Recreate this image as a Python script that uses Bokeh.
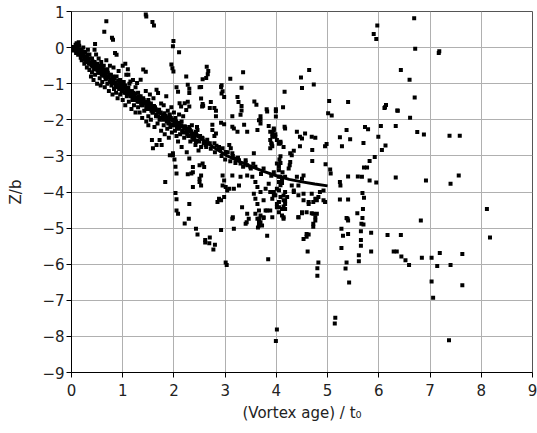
from bokeh.plotting import figure
from bokeh.embed import file_html
from bokeh.resources import INLINE
from bokeh.models import Range1d, FixedTicker

# fitted mean descent curve
curve_t = [0, 0.25, 0.5, 0.75, 1, 1.25, 1.5, 1.75, 2, 2.25, 2.5, 2.75, 3, 3.25, 3.5, 3.75, 4, 4.25, 4.5, 4.75, 5]
curve_z = [0.05, -0.27, -0.57, -0.85, -1.12, -1.37, -1.62, -1.84, -2.05, -2.28, -2.5, -2.74, -2.97, -3.14,
           -3.29, -3.43, -3.55, -3.65, -3.72, -3.78, -3.83]

x_ticks = [0, 1, 2, 3, 4, 5, 6, 7, 8, 9]
y_ticks = [-9, -8, -7, -6, -5, -4, -3, -2, -1, 0, 1]

# measured vortex positions (age / t0, Z / b)
top_pts = [(0.68, 0.73), (0.64, 0.44), (0.79, 0.27), (0.81, 0.22), (1.45, 0.92), (1.46, 0.86), (1.58, 0.71),
           (1.61, 0.61), (1.99, 0.18), (1.98, 0.04), (2.10, -0.13), (0.85, -0.15), (0.88, -0.2), (0.46, 0.1),
           (0.14, 0.15), (1.11, -0.75), (1.05, -0.45)]

cluster_pts = [
    (0.02, 0.02), (0.05, -0.05), (0.08, 0.08), (0.1, 0.12), (0.1, -0.1), (0.12, -0.02), (0.13, -0.2), (0.15, 0.05),
    (0.16, -0.15), (0.18, -0.28), (0.2, -0.08), (0.2, -0.35), (0.22, -0.22), (0.23, 0.0), (0.25, -0.3), (0.25, -0.45),
    (0.27, -0.12), (0.28, -0.4), (0.3, -0.25), (0.3, -0.55), (0.32, -0.06), (0.33, -0.35), (0.35, -0.62), (0.35, -0.19),
    (0.37, -0.45), (0.38, -0.8), (0.4, -0.3), (0.4, -0.68), (0.42, -0.52), (0.43, -0.9), (0.45, -0.06), (0.45, -0.4),
    (0.46, -0.75), (0.48, -0.19), (0.48, -0.6), (0.5, -1.0), (0.5, -0.45),
    (0.52, -0.7), (0.53, -0.3), (0.55, -0.85), (0.55, -0.55), (0.57, -1.05), (0.58, -0.4), (0.6, -0.65), (0.6, -0.95),
    (0.62, -0.78), (0.63, -0.5), (0.65, -1.1), (0.65, -0.7), (0.67, -0.88), (0.68, -0.35), (0.7, -1.0), (0.7, -0.6),
    (0.72, -0.8), (0.73, -1.2), (0.75, -0.95), (0.75, -0.5),
    (0.77, -0.75), (0.78, -1.05), (0.8, -0.9), (0.8, -1.3), (0.82, -0.55), (0.83, -1.15), (0.85, -0.98), (0.87, -1.25),
    (0.88, -0.8), (0.9, -1.05), (0.9, -1.4), (0.92, -0.65), (0.93, -1.15), (0.95, -0.9), (0.95, -1.3), (0.97, -1.0),
    (0.98, -1.2), (1.0, -0.5), (1.0, -1.1), (1.0, -1.45),
    (1.02, -0.95), (1.03, -1.25), (1.05, -1.05), (1.05, -1.6), (1.07, -0.75), (1.08, -1.35), (1.1, -1.15), (1.1, -0.6),
    (1.12, -1.5), (1.13, -1.0), (1.15, -1.3), (1.15, -0.94), (1.17, -1.7), (1.18, -1.2), (1.2, -1.45), (1.2, -0.9),
    (1.22, -1.6), (1.23, -1.3), (1.25, -1.1), (1.25, -1.8),
    (1.27, -1.45), (1.28, -0.98), (1.3, -1.65), (1.3, -1.25), (1.32, -1.5), (1.33, -1.8), (1.35, -1.35), (1.35, -0.89),
    (1.37, -1.6), (1.38, -1.95), (1.4, -0.61), (1.4, -1.4), (1.42, -1.75), (1.43, -1.55), (1.45, -0.67), (1.45, -1.2),
    (1.46, -2.05), (1.48, -1.65), (1.5, -1.45), (1.5, -1.9), (1.5, -2.15),
    (1.52, -1.7), (1.53, -1.3), (1.55, -2.0), (1.55, -1.55), (1.57, -2.56), (1.58, -1.8), (1.59, -2.79), (1.6, -1.4),
    (1.62, -2.2), (1.63, -1.65), (1.65, -1.9), (1.66, -2.7), (1.66, -1.17), (1.68, -2.1), (1.69, -1.26), (1.7, -1.75),
    (1.72, -2.56), (1.72, -2.0), (1.75, -1.55), (1.76, -2.7), (1.75, -2.3),
    (1.78, -1.9), (1.8, -2.15), (1.8, -1.6), (1.82, -2.4), (1.85, -1.95), (1.85, -1.35), (1.87, -2.25), (1.88, -1.75),
    (1.9, -2.05), (1.9, -2.5), (1.92, -1.85), (1.93, -2.2), (1.95, -0.47), (1.95, -1.65), (1.96, -2.35), (1.97, -0.57),
    (1.98, -2.0), (1.98, -2.98), (1.99, -0.66), (2.0, -2.15), (2.0, -1.8),
    (2.01, -3.1), (2.02, -2.3), (2.03, -1.95), (2.05, -1.1), (2.05, -2.45), (2.07, -2.1), (2.08, -1.22), (2.08, -2.6),
    (2.1, -2.2), (2.1, -1.85), (2.11, -1.54), (2.12, -2.4), (2.14, -1.63), (2.15, -2.05), (2.15, -2.75), (2.17, -2.3),
    (2.18, -1.9), (2.2, -2.5), (2.21, -1.54), (2.22, -2.2), (2.24, -1.73), (2.24, -0.8), (2.25, -2.9), (2.25, -2.35),
    (2.27, -1.03), (2.27, -1.5), (2.28, -2.45), (2.3, -1.26), (2.3, -1.63), (2.3, -2.2), (2.3, -3.07), (2.32, -2.6),
    (2.34, -2.4), (2.35, -2.15), (2.37, -3.31), (2.37, -3.45), (2.38, -2.5), (2.42, -2.7), (2.43, -2.33),
    (2.45, -2.2), (2.48, -2.85), (2.5, -3.26), (2.5, -1.1), (1.92, -2.98), (1.98, -2.93), (1.83, -3.72)]

band_pts = [
    (0.03, -0.08), (0.06, 0.0), (0.09, -0.15), (0.11, 0.02), (0.14, -0.1), (0.17, -0.05), (0.19, -0.22), (0.21, -0.12),
    (0.24, -0.18), (0.26, -0.32), (0.29, -0.33), (0.31, -0.2), (0.34, -0.45), (0.36, -0.3), (0.39, -0.5), (0.41, -0.38),
    (0.44, -0.6), (0.46, -0.45), (0.49, -0.48), (0.51, -0.62), (0.54, -0.7), (0.56, -0.5), (0.59, -0.75), (0.61, -0.58),
    (0.64, -0.62), (0.66, -0.82), (0.69, -0.85), (0.71, -0.7), (0.74, -0.75), (0.76, -0.9), (0.79, -0.98), (0.81, -0.8),
    (0.84, -0.86), (0.86, -1.05), (0.89, -1.1), (0.91, -0.92), (0.94, -0.98), (0.96, -1.15), (0.99, -1.2), (1.01, -1.02),
    (1.04, -1.1), (1.06, -1.25), (1.09, -1.3), (1.11, -1.12), (1.14, -1.2), (1.16, -1.35), (1.19, -1.4), (1.21, -1.25),
    (1.24, -1.28), (1.26, -1.45), (1.29, -1.5), (1.31, -1.35), (1.34, -1.4), (1.36, -1.55), (1.39, -1.6), (1.41, -1.45),
    (1.44, -1.5), (1.46, -1.65), (1.49, -1.7), (1.51, -1.55), (1.54, -1.6), (1.56, -1.75), (1.59, -1.8), (1.61, -1.62),
    (1.64, -1.7), (1.66, -1.85), (1.69, -1.9), (1.71, -1.72), (1.74, -1.8), (1.76, -1.95), (1.79, -2.0), (1.81, -1.82),
    (1.84, -1.88), (1.86, -2.05), (1.89, -2.1), (1.91, -1.92), (1.94, -1.95), (1.96, -2.12), (1.99, -2.15), (2.01, -2.0),
    (2.04, -2.05), (2.06, -2.2), (2.09, -2.25), (2.11, -2.08), (2.14, -2.15), (2.16, -2.3), (2.19, -2.35), (2.21, -2.18),
    (2.24, -2.25), (2.26, -2.4), (2.29, -2.45), (2.31, -2.28), (2.34, -2.32), (2.36, -2.5), (2.39, -2.55), (2.41, -2.38),
    (2.44, -2.42), (2.46, -2.58), (2.49, -2.6), (2.51, -2.45), (2.55, -2.5), (2.58, -2.65), (2.62, -2.7), (2.65, -2.55),
    (2.7, -2.65), (2.72, -2.8), (2.8, -2.9), (2.83, -2.72), (2.9, -2.82), (2.93, -3.0), (3.0, -3.1), (3.05, -2.9),
    (3.1, -3.15), (3.15, -3.0), (3.2, -3.2), (3.25, -3.05), (3.35, -3.3), (3.4, -3.18), (3.5, -3.35), (3.55, -3.22),
    (3.7, -3.5), (3.75, -3.35), (3.9, -3.55), (3.95, -3.45)]

mid_pts = [
    (2.64, -0.53), (2.67, -0.65), (2.66, -0.74), (2.63, -0.84), (2.56, -0.88), (3.10, -0.86), (3.35, -0.68),
    (2.53, -1.09), (2.93, -1.04), (2.92, -1.09), (3.32, -1.11), (2.95, -1.21), (2.93, -1.27), (2.98, -1.37),
    (2.53, -1.41), (2.56, -1.56), (2.57, -1.61), (2.55, -1.63), (2.72, -1.51), (2.70, -1.67), (2.79, -1.67),
    (2.82, -1.75), (3.24, -1.37), (3.26, -1.51), (3.32, -1.62), (3.32, -1.74), (3.57, -1.49), (3.61, -1.58),
    (3.81, -1.71), (2.30, -1.14), (2.82, -1.90), (3.14, -1.90), (3.30, -1.86), (3.69, -1.90), (3.82, -1.77),
    (3.99, -1.91), (2.75, -2.14), (2.92, -2.08), (2.98, -2.12), (2.75, -2.28), (2.82, -2.38), (2.79, -2.45),
    (3.14, -2.19), (3.17, -2.24), (3.24, -2.33), (3.37, -2.14), (3.43, -2.33), (3.66, -2.01), (3.69, -2.10),
    (3.63, -2.28), (3.85, -2.17), (3.95, -2.24), (3.88, -2.33), (3.92, -2.47), (3.98, -2.40), (3.90, -2.65),
    (3.88, -2.79), (4.01, -2.56), (4.08, -2.65), (2.37, -2.40), (2.46, -2.28), (2.56, -2.52), (2.59, -2.61),
    (2.66, -2.65), (2.63, -2.75), (2.53, -2.75), (2.43, -2.61), (2.40, -2.52), (2.79, -2.65), (2.88, -2.75),
    (2.95, -2.79), (3.01, -2.89), (3.08, -2.70), (3.11, -2.79), (3.14, -2.93), (3.21, -3.07), (3.27, -3.12),
    (3.30, -3.21), (3.40, -3.12), (3.43, -3.26), (3.49, -3.30), (3.56, -2.93), (3.59, -3.30), (2.56, -3.21),
    (2.59, -3.31), (2.53, -3.54), (2.50, -3.63), (2.53, -3.82), (2.95, -3.54), (2.98, -3.68), (2.95, -3.82),
    (3.01, -3.86), (3.04, -3.96), (3.08, -3.91), (3.17, -3.91), (3.27, -3.82), (3.14, -3.54), (3.30, -3.58),
    (3.43, -3.54), (3.53, -3.58), (3.59, -3.72), (3.63, -3.86), (3.56, -4.05), (3.59, -4.19), (3.63, -4.33),
    (3.66, -4.51), (3.69, -4.65), (3.63, -4.74), (3.66, -4.88), (3.85, -3.77), (3.88, -4.00), (3.95, -4.09),
    (4.01, -3.91), (4.05, -3.58), (4.08, -4.14), (4.05, -4.28), (4.01, -4.42), (4.17, -3.58), (4.17, -4.47),
    (2.88, -4.19), (2.85, -4.28), (3.14, -4.74), (3.33, -4.42), (3.43, -4.60), (3.46, -4.74), (3.40, -4.88),
    (3.82, -4.51), (3.92, -4.70), (4.01, -3.21), (4.05, -3.30), (4.12, -3.45), (2.27, -3.51), (2.34, -3.49),
    (2.37, -3.86), (2.50, -3.72), (2.03, -3.3), (2.05, -3.49), (2.03, -4.03), (2.05, -4.2), (2.05, -4.51),
    (2.08, -4.6), (2.30, -4.33), (2.21, -4.87), (2.29, -4.74), (2.43, -5.02), (2.46, -5.18), (2.61, -5.33),
    (2.61, -5.40), (2.69, -5.42), (2.70, -5.26), (2.80, -5.46), (2.77, -5.59), (2.92, -5.05), (3.01, -5.95),
    (3.03, -6.02), (3.17, -5.02), (3.15, -4.70), (3.42, -4.84), (3.59, -4.60), (3.66, -4.74), (3.69, -4.84),
    (3.75, -4.70), (3.64, -4.98), (3.72, -4.93), (3.82, -5.21), (3.84, -5.86), (2.98, -4.14), (2.92, -4.23),
    (4.64, -0.62), (4.48, -0.83), (4.50, -1.12), (4.73, -1.02), (4.16, -1.22), (4.13, -1.65), (3.99, -1.71),
    (3.99, -1.76), (3.69, -2.0), (4.16, -2.19), (4.17, -2.24), (3.95, -2.28), (3.92, -2.38), (3.98, -2.47),
    (3.88, -2.56), (4.40, -2.33), (4.46, -2.47), (4.56, -2.38), (4.50, -2.52), (4.69, -2.47), (4.76, -2.50),
    (4.08, -2.61), (4.14, -2.75), (4.05, -2.66), (3.91, -2.68), (3.92, -2.73), (4.46, -2.73), (4.34, -2.86),
    (4.27, -2.93), (4.30, -2.98), (4.70, -2.84), (4.70, -3.14), (4.98, -2.67), (4.95, -2.73), (4.96, -3.23),
    (4.08, -3.01), (4.06, -3.10), (4.08, -3.20), (4.27, -3.17), (4.26, -3.26), (4.24, -3.35), (4.05, -3.40),
    (4.40, -3.58), (4.50, -3.63), (4.53, -3.54), (4.05, -3.72), (4.11, -3.75), (4.30, -3.82), (4.43, -3.82),
    (3.79, -3.91), (3.69, -4.00), (3.95, -4.00), (3.98, -4.09), (4.17, -4.00), (4.21, -4.14), (4.14, -4.23),
    (4.17, -4.33), (4.34, -4.00), (4.43, -4.09), (4.53, -4.05), (4.69, -4.05), (4.63, -4.28), (4.72, -4.28),
    (4.79, -4.23), (4.95, -4.28), (4.92, -3.96), (3.75, -4.23), (3.92, -4.19), (4.01, -4.33), (4.05, -4.42),
    (3.88, -4.51), (3.79, -4.51), (4.50, -4.56), (4.59, -4.56), (4.72, -4.60), (4.79, -4.60), (4.11, -4.65),
    (4.05, -4.56), (4.14, -4.70), (4.43, -4.70), (4.50, -4.59), (4.69, -4.59), (4.76, -4.70), (4.72, -4.88),
    (4.72, -4.96), (3.75, -4.72), (3.66, -4.79), (3.66, -4.93), (4.53, -5.30), (4.59, -5.24), (4.63, -5.18),
    (4.61, -5.65), (4.82, -5.95), (4.80, -6.11), (4.80, -6.32), (4.01, -7.81), (3.99, -8.13),
    (4.08, -3.58), (4.11, -3.68), (4.08, -3.81), (4.05, -3.95), (4.14, -4.10), (4.17, -4.24), (4.14, -4.40),
    (4.34, -3.96), (4.53, -4.23), (4.63, -4.33), (4.76, -4.19), (4.82, -4.14), (4.85, -4.00), (4.92, -4.23),
    (4.43, -4.70), (4.76, -4.79), (4.59, -5.16), (4.14, -4.74), (4.11, -4.47)]

far_pts = [
    (6.69, 0.81), (5.97, 0.61), (5.90, 0.38), (5.95, 0.24), (6.71, -0.03), (7.17, -0.15), (7.18, -0.10),
    (6.43, -0.62), (6.60, -0.89), (6.70, -1.38), (6.61, -1.94), (6.36, -1.74), (6.12, -1.65), (6.14, -1.59),
    (6.33, -2.17), (6.75, -2.34), (6.88, -2.41), (7.38, -2.44), (7.58, -2.44), (7.56, -3.54), (7.40, -3.77),
    (6.92, -3.68), (6.33, -3.60), (8.11, -4.47), (5.40, -1.51), (5.03, -1.48), (5.01, -1.82), (5.08, -1.88),
    (5.37, -2.28), (5.24, -2.48), (5.44, -2.54), (5.28, -2.73), (5.70, -2.64), (5.73, -2.20), (5.79, -2.26),
    (6.04, -2.17), (5.99, -2.47), (6.13, -2.71), (6.06, -2.84), (5.92, -3.03), (5.82, -3.14), (5.71, -3.32),
    (5.77, -3.32), (5.82, -3.68), (5.95, -3.74), (5.59, -3.57), (5.67, -3.58), (5.40, -3.57), (5.24, -3.72),
    (5.25, -3.82), (5.05, -3.38), (5.06, -3.49), (5.24, -4.21), (5.40, -4.21), (5.68, -4.03), (5.71, -4.16),
    (5.69, -4.47), (5.58, -4.59), (5.39, -4.74), (5.27, -5.02), (5.30, -5.21), (5.40, -5.16), (5.37, -4.72),
    (5.40, -4.79), (5.27, -5.55), (5.37, -5.95), (5.35, -6.12), (5.42, -6.51), (5.68, -4.72), (5.70, -4.90),
    (5.65, -5.09), (5.65, -5.33), (5.65, -5.49), (5.85, -5.13), (5.85, -5.65), (5.61, -5.75), (5.61, -5.92),
    (5.66, -4.88), (6.17, -5.19), (6.43, -5.19), (6.29, -5.65), (6.35, -5.65), (6.44, -5.79), (6.52, -5.89),
    (6.59, -6.02), (6.82, -4.79), (6.84, -5.82), (7.03, -5.82), (7.19, -5.69), (7.14, -6.05), (7.40, -6.02),
    (7.63, -5.72), (7.63, -6.58), (7.03, -6.48), (7.06, -6.93), (7.37, -8.11), (8.17, -5.26), (5.15, -7.48),
    (5.14, -7.64), (6.11, -1.67), (6.37, -1.75)]

all_pts = top_pts + cluster_pts + band_pts + mid_pts + far_pts
ages = [pt[0] for pt in all_pts]
depths = [pt[1] for pt in all_pts]

FONT = "DejaVu Sans"

p = figure(frame_width=461, frame_height=361,
           x_range=Range1d(0, 9), y_range=Range1d(-9, 1),
           output_backend="svg", toolbar_location=None,
           min_border_left=71, min_border_right=6, min_border_top=11, min_border_bottom=48,
           background_fill_color="white", border_fill_color="white")

p.scatter(ages, depths, marker="square", size=4, color="black", line_width=0)
p.line(curve_t, curve_z, line_width=3, color="black")

p.xaxis.ticker = FixedTicker(ticks=x_ticks)
p.yaxis.ticker = FixedTicker(ticks=y_ticks)
p.xgrid.ticker = FixedTicker(ticks=x_ticks)
p.ygrid.ticker = FixedTicker(ticks=y_ticks)
p.grid.grid_line_color = "#b0b0b0"
p.grid.grid_line_width = 1

p.outline_line_color = "#555555"
p.outline_line_width = 1

for ax in (p.xaxis[0], p.yaxis[0]):
    ax.axis_line_color = "black"
    ax.major_tick_line_color = "black"
    ax.minor_tick_line_color = None
    ax.major_tick_in = 0
    ax.major_tick_out = 5
    ax.major_label_text_font = FONT
    ax.major_label_text_font_size = "15px"
    ax.major_label_text_color = "#222222"
    ax.axis_label_text_font = FONT
    ax.axis_label_text_font_size = "15px"
    ax.axis_label_text_font_style = "normal"
    ax.axis_label_text_color = "#222222"

p.xaxis.axis_label = "(Vortex age) / t\u2080"
p.yaxis.axis_label = "Z/b"
p.xaxis.major_label_standoff = 6
p.xaxis.axis_label_standoff = 5
p.yaxis.major_label_standoff = 2
p.yaxis.axis_label_standoff = 14

open("out.html", "w").write(file_html(p, INLINE))
